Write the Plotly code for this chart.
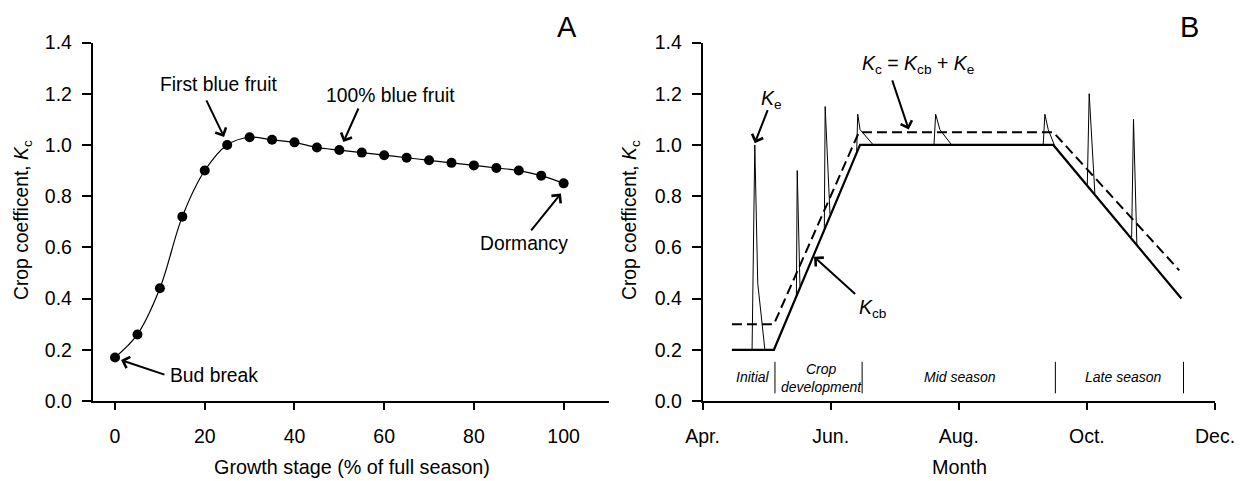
import plotly.graph_objects as go

# ---------------- data ----------------
# Panel A
growth_stage = [0, 5, 10, 15, 20, 25, 30, 35, 40, 45, 50, 55, 60, 65, 70, 75, 80, 85, 90, 95, 100]
kc_stage = [0.17, 0.26, 0.44, 0.72, 0.90, 1.00, 1.03, 1.02, 1.01, 0.99, 0.98, 0.97,
            0.96, 0.95, 0.94, 0.93, 0.92, 0.91, 0.90, 0.88, 0.85]
a_xticks = [0, 20, 40, 60, 80, 100]

# Panel B (days counted from 1 April)
month_days = [0, 61, 122, 183, 244]
month_labels = ["Apr.", "Jun.", "Aug.", "Oct.", "Dec."]
kcb_days = [14, 34, 75, 167, 228]
kcb_vals = [0.2, 0.2, 1.0, 1.0, 0.4]
kc_days = [14, 34, 74.5, 167, 227]
kc_vals = [0.3, 0.3, 1.05, 1.05, 0.51]
ke_days = [23.6, 24.9, 26.3, 29.7, None,
           44.7, 45.1, 46.4, None,
           58.0, 58.4, 60.7, None,
           73.4, 73.9, 75.0, 81.3, None,
           110.2, 111.0, 113.0, 118.6, None,
           162.2, 163.0, 164.6, 167.5, None,
           183.2, 184.1, 186.8, None,
           204.3, 205.2, 206.8]
ke_vals = [0.2, 1.0, 0.46, 0.2, None,
           0.41, 0.9, 0.45, None,
           0.67, 1.15, 0.73, None,
           0.97, 1.12, 1.06, 1.0, None,
           1.0, 1.12, 1.06, 1.0, None,
           1.0, 1.12, 1.06, 1.0, None,
           0.845, 1.2, 0.81, None,
           0.64, 1.10, 0.61]
phase_bounds = [34.5, 76, 168, 229]
phase_names = ["Initial", "Crop<br>development", "Mid season", "Late season"]

# ---------------- figure ----------------
W, H = 1243, 481
OX, OY = 8, 8  # page body offset
FONT = "Liberation Sans, Arial, sans-serif"
TICKFS = 19.5


def xp(x):
    return (x - OX) / W


def yp(y):
    return 1 - (y - OY) / H


fig = go.Figure()

fig.add_trace(go.Scatter(x=growth_stage, y=kc_stage, mode="lines+markers",
                         line=dict(color="black", width=1.2, shape="spline", smoothing=1.0),
                         marker=dict(color="black", size=10),
                         xaxis="x", yaxis="y", showlegend=False))

# phase separators
sep_x, sep_y = [], []
for d in phase_bounds:
    sep_x += [d, d, None]
    sep_y += [0.03, 0.153, None]
fig.add_trace(go.Scatter(x=sep_x, y=sep_y, mode="lines",
                         line=dict(color="black", width=1),
                         xaxis="x2", yaxis="y2", showlegend=False))

fig.add_trace(go.Scatter(x=ke_days, y=ke_vals, mode="lines", connectgaps=False,
                         line=dict(color="black", width=1),
                         xaxis="x2", yaxis="y2", showlegend=False))
fig.add_trace(go.Scatter(x=kc_days, y=kc_vals, mode="lines",
                         line=dict(color="black", width=2, dash="10px,5px"),
                         xaxis="x2", yaxis="y2", showlegend=False))
fig.add_trace(go.Scatter(x=kcb_days, y=kcb_vals, mode="lines",
                         line=dict(color="black", width=2.2),
                         xaxis="x2", yaxis="y2", showlegend=False))

ydom = [yp(401), yp(42.5)]
axis_common = dict(showline=True, linecolor="black", linewidth=1.5, ticks="outside",
                   tickcolor="black", tickwidth=1.5, showgrid=False, zeroline=False,
                   automargin=False,
                   tickfont=dict(family=FONT, size=TICKFS, color="black"))

fig.update_layout(
    width=W, height=H, autosize=False,
    margin=dict(l=0, r=0, t=0, b=0, pad=0, autoexpand=False),
    paper_bgcolor="white", plot_bgcolor="white",
    showlegend=False,
    font=dict(family=FONT, color="black"),
    xaxis=dict(domain=[xp(92.6), xp(608.5)], range=[-5, 110], tickvals=a_xticks,
               ticklen=7, ticklabelstandoff=10, anchor="y", **axis_common),
    yaxis=dict(domain=ydom, range=[0, 1.4], dtick=0.2, tickformat=".1f",
               ticklen=9, ticklabelstandoff=6, anchor="x", **axis_common),
    xaxis2=dict(domain=[xp(702.5), xp(1215)], range=[0, 244], tickvals=month_days,
                ticktext=month_labels, ticklen=7, ticklabelstandoff=10, anchor="y2",
                **axis_common),
    yaxis2=dict(domain=ydom, range=[0, 1.4], dtick=0.2, tickformat=".1f",
                ticklen=9, ticklabelstandoff=6, anchor="x2", **axis_common),
)

anns = []


def ptext(x, y, text, size=18, angle=0):
    anns.append(dict(x=xp(x), y=yp(y), xref="paper", yref="paper", text=text,
                     showarrow=False, textangle=angle, xanchor="center", yanchor="middle",
                     font=dict(family=FONT, size=size, color="black")))


def arrow(xh, yh, xt, yt, xa, ya):
    anns.append(dict(x=xh, y=yh, ax=xt, ay=yt, xref=xa, yref=ya, axref=xa, ayref=ya,
                     text="", showarrow=True, arrowhead=4, arrowsize=1.15,
                     arrowwidth=2, arrowcolor="black"))


kc_title = "Crop coefficent, <i>K</i><sub>c</sub>"
# axis titles
ptext(23, 220, kc_title, 19.3, -90)
ptext(631, 220, kc_title, 19.3, -90)
ptext(352, 467, "Growth stage (% of full season)", 19.8)
ptext(959, 467, "Month", 19.8)
# panel letters
ptext(567, 27, "A", 29)
ptext(1189, 27, "B", 29)

# panel A annotations
ptext(218, 85, "First blue fruit", 19.3)
arrow(24.3, 1.031, 20.2, 1.18, "x", "y")
ptext(390, 95, "100% blue fruit", 19.3)
arrow(50.9, 1.011, 54.4, 1.148, "x", "y")
ptext(524, 243, "Dormancy", 19.3)
arrow(99.4, 0.81, 92.5, 0.66, "x", "y")
ptext(214, 375, "Bud break", 19.3)
arrow(1.34, 0.16, 11.35, 0.101, "x", "y")

# panel B annotations
ptext(918, 64, "<i>K</i><sub>c</sub> = <i>K</i><sub>cb</sub> + <i>K</i><sub>e</sub>", 19.5)
arrow(98.2, 1.06, 90.1, 1.258, "x2", "y2")
ptext(771, 99, "<i>K</i><sub>e</sub>", 19.5)
arrow(24.9, 1.007, 31.3, 1.142, "x2", "y2")
ptext(873, 308, "<i>K</i><sub>cb</sub>", 19.5)
arrow(53.1, 0.563, 73.4, 0.413, "x2", "y2")

# phase labels
phase_pos = [(752.5, 377), (821.7, 378), (959.5, 377), (1122.7, 377)]
for name, (px, py) in zip(phase_names, phase_pos):
    ptext(px, py, "<i>" + name + "</i>", 14)

fig.update_layout(annotations=anns)
fig.write_html("out.html")
